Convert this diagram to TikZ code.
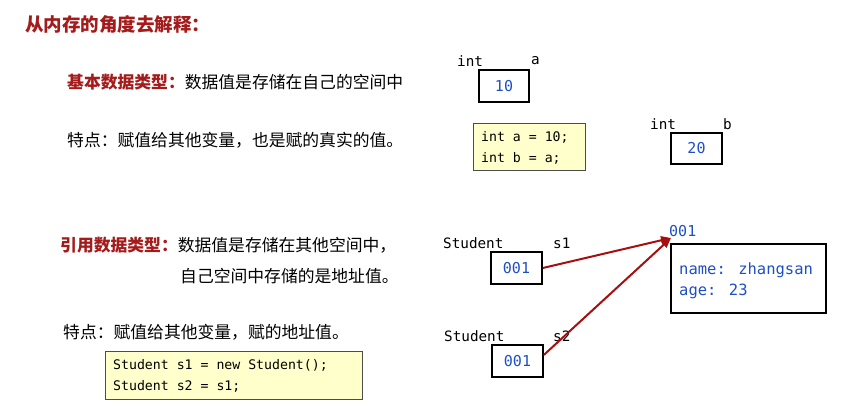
\documentclass[tikz,border=0pt]{standalone}
\usepackage{fontspec}
\newfontfamily\cjk{Noto Sans CJK SC}
\newfontfamily\mono[WordSpace={1,0,0}]{DejaVu Sans Mono}
\usetikzlibrary{arrows.meta}
\definecolor{dred}{HTML}{A31B1B}
\definecolor{vblue}{HTML}{1F4FC4}
\definecolor{codebg}{HTML}{FFFFCC}
\definecolor{arrowred}{HTML}{A50F0F}
\begin{document}
\begin{tikzpicture}[x=1pt,y=-1pt,
  title/.style={anchor=west,inner sep=0pt,font=\cjk\bfseries\fontsize{18.5}{20}\selectfont,text=dred},
  body/.style={anchor=west,inner sep=0pt,font=\cjk\fontsize{16.8}{20}\selectfont},
  lbl/.style={anchor=west,inner sep=0pt,font=\mono\fontsize{14.3}{15}\selectfont},
  valbox/.style={draw=black,line width=1.6pt,inner sep=0pt,font=\mono\fontsize{15}{18}\selectfont,text=vblue},
  codebox/.style={draw=black!70,line width=0.6pt,fill=codebg,anchor=north west,inner sep=0pt},
  codetext/.style={anchor=west,inner sep=0pt,align=left,font=\mono\fontsize{13.2}{21}\selectfont},
  refarrow/.style={draw=arrowred,line width=2pt,-{Triangle[length=10pt,width=8pt]}}
]
\useasboundingbox (0,0) rectangle (862,409);
% titles and text
\node[title] (t0) at (25,24) {从内存的角度去解释：};
\node[body] (t1) at (67,82) {\textcolor{dred}{\bfseries 基本数据类型：}数据值是存储在自己的空间中};
\node[body] (t2) at (67,140) {特点：赋值给其他变量，也是赋的真实的值。};
\node[body] (t3) at (60,245) {\textcolor{dred}{\bfseries 引用数据类型：}数据值是存储在其他空间中，};
\node[body] (t4) at (180,276) {自己空间中存储的是地址值。};
\node[body] (t5) at (63,332) {特点：赋值给其他变量，赋的地址值。};
% basic types
\node[lbl] (inta) at (457,61) {int};
\node[lbl] (na) at (531,61) {a};
\node[valbox,minimum width=50pt,minimum height=32pt] (va) at (504,86) {10};
\node[codebox,minimum width=112pt,minimum height=47pt] (code1) at (473,123) {};
\node[codetext] (code1t) at (481,147.5) {int a = 10;\\int b = a;};
\node[lbl] (intb) at (650,124) {int};
\node[lbl] (nb) at (723,124) {b};
\node[valbox,minimum width=51pt,minimum height=31pt] (vb) at (696.5,148.5) {20};
% reference types
\node[lbl] (st1) at (443,243) {Student};
\node[lbl] (ns1) at (553,243) {s1};
\node[valbox,minimum width=51pt,minimum height=32pt] (s1) at (516.5,268) {001};
\node[lbl] (st2) at (444,336) {Student};
\node[lbl] (ns2) at (553,336) {s2};
\node[valbox,minimum width=51pt,minimum height=32pt] (s2) at (517.5,361) {001};
\node[anchor=west,inner sep=0pt,font=\mono\fontsize{15}{18}\selectfont,text=vblue] (addr) at (669,231) {001};
\node[draw=black,line width=1.6pt,minimum width=155pt,minimum height=69pt,inner sep=0pt] (obj) at (748.5,278.5) {};
\node[anchor=west,inner sep=0pt,align=left,font=\mono\fontsize{15.5}{21}\selectfont,text=vblue] (objtxt) at (679,280.5) {name: zhangsan\\age: 23};
\coordinate (tip) at (671,238);
\draw[refarrow] (s1.east) -- (tip);
\draw[refarrow] ([yshift=6pt]s2.east) -- (tip);
\node[codebox,minimum width=257pt,minimum height=48pt] (code2) at (105,351) {};
\node[codetext] (code2t) at (113,376) {Student s1 = new Student();\\Student s2 = s1;};
\end{tikzpicture}
\end{document}
